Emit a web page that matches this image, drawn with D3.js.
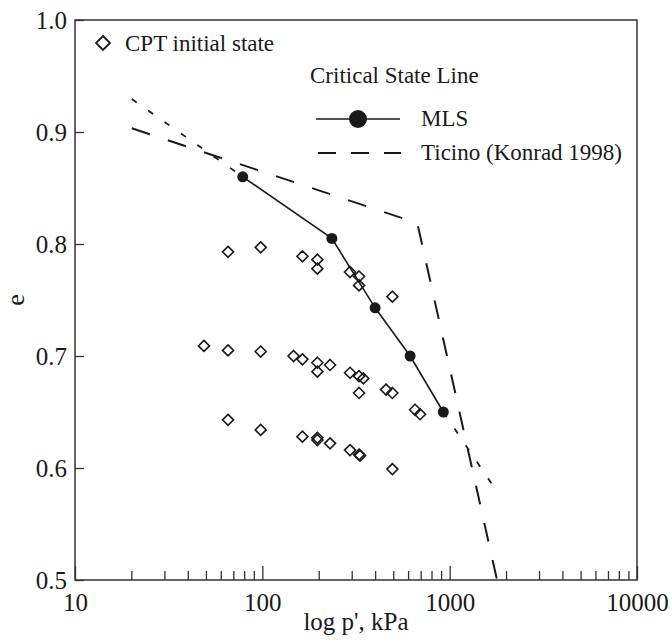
<!DOCTYPE html>
<html>
<head>
<meta charset="utf-8">
<script src="https://cdn.jsdelivr.net/npm/d3@7"></script>
<style>
  html, body { margin: 0; padding: 0; background: #fff; }
  svg { display: block; }
  svg text { font-family: "Liberation Serif", "Times New Roman", Times, "DejaVu Serif", serif; fill: #1a1a1a; }
</style>
</head>
<body>
<svg id="chart" width="672" height="642"></svg>
<script>
// ---- data (p' in kPa, void ratio e) ----
const xTickValues = [10, 100, 1000, 10000];
const xTickLabels = ["10", "100", "1000", "10000"];
const xMinorTicks = [20, 30, 40, 50, 60, 70, 80, 90, 200, 300, 400, 500, 600, 700, 800, 900,
                     2000, 3000, 4000, 5000, 6000, 7000, 8000, 9000];
const yTickValues = [0.5, 0.6, 0.7, 0.8, 0.9, 1.0];
const yTickLabels = ["0.5", "0.6", "0.7", "0.8", "0.9", "1.0"];

const cptUpper = [[65.6,0.793],[98,0.797],[163.7,0.789],[196.7,0.786],[196.7,0.778],
                  [293.9,0.775],[328.3,0.771],[328.3,0.763],[494.5,0.753]];
const cptMiddle = [[48.8,0.709],[65.6,0.705],[98,0.704],[146.8,0.700],[163.7,0.697],
                   [196.7,0.694],[196.7,0.686],[229.9,0.692],[293.9,0.685],[328.3,0.682],
                   [346.1,0.680],[328.3,0.667],[457.6,0.670],[494.5,0.667],[653.7,0.652],[695,0.648]];
const cptLower = [[65.6,0.643],[98,0.634],[163.7,0.628],[196.7,0.627],[196.7,0.625],
                  [229.9,0.622],[293.9,0.616],[328.3,0.612],[332.3,0.611],[494.5,0.599]];

const mlsLine = [[78.6,0.860],[235,0.805],[400,0.743],[615,0.700],[925,0.650]];
const mlsExtUpper = [[20.1,0.9295],[78.6,0.860]];
const mlsExtLower = [[925,0.650],[1820,0.577]];
const ticinoLine = [[20.1,0.9034],[672,0.8186],[1790,0.5]];

const legendLabels = ["CPT initial state", "Critical State Line", "MLS", "Ticino (Konrad 1998)"];
const xTitle = "log p', kPa";
const yTitle = "e";

// ---- layout ----
const FONT = '"Liberation Serif", "Times New Roman", Times, "DejaVu Serif", serif';
const svg = d3.select("#chart");
const L = 75, R = 637, T = 20, B = 580;
const ink = "#1a1a1a";

const x = d3.scaleLog().domain([10, 10000]).range([L, R]);
const y = d3.scaleLinear().domain([0.5, 1.0]).range([B, T]);

// frame
svg.append("rect").attr("x", L).attr("y", T).attr("width", R - L).attr("height", B - T)
  .attr("fill", "none").attr("stroke", "#333").attr("stroke-width", 1.5);

// x minor ticks
const xMinor = svg.append("g").attr("transform", `translate(0,${B})`)
  .call(d3.axisBottom(x).tickValues(xMinorTicks).tickSize(-9).tickFormat(""));
// x major ticks
const xMajor = svg.append("g").attr("transform", `translate(0,${B})`)
  .call(d3.axisBottom(x).tickValues(xTickValues).tickSize(-14).tickPadding(13)
    .tickFormat((d, i) => xTickLabels[i]));
// y axis
const yAxis = svg.append("g").attr("transform", `translate(${L},0)`)
  .call(d3.axisLeft(y).tickValues(yTickValues).tickSize(-9).tickPadding(8)
    .tickFormat((d, i) => yTickLabels[i]));

[xMinor, xMajor, yAxis].forEach(g => {
  g.attr("font-family", FONT).attr("font-size", 25);
  g.select(".domain").remove();
  g.selectAll(".tick line").attr("stroke", "#333").attr("stroke-width", 1.3);
  g.selectAll(".tick text").attr("font-family", FONT).style("font-family", FONT)
    .style("font-size", "25px").attr("fill", ink);
});

// axis titles
svg.append("text").attr("x", (L + R) / 2).attr("y", 630).attr("text-anchor", "middle")
  .style("font-family", FONT).style("font-size", "25px").text(xTitle);
svg.append("text").attr("transform", `translate(24,${(T + B) / 2}) rotate(-90)`)
  .attr("text-anchor", "middle").style("font-family", FONT).style("font-size", "26px").text(yTitle);

const line = d3.line().x(d => x(d[0])).y(d => y(d[1]));

// Ticino dashed
svg.append("path").datum(ticinoLine).attr("d", line).attr("fill", "none")
  .attr("stroke", ink).attr("stroke-width", 2).attr("stroke-dasharray", "19,19");
// MLS extensions (dotted)
[mlsExtUpper, mlsExtLower].forEach(seg => {
  svg.append("path").datum(seg).attr("d", line).attr("fill", "none")
    .attr("stroke", ink).attr("stroke-width", 1.8).attr("stroke-dasharray", "6,14");
});
// MLS solid
svg.append("path").datum(mlsLine).attr("d", line).attr("fill", "none")
  .attr("stroke", ink).attr("stroke-width", 1.6);
svg.selectAll("circle.mls").data(mlsLine).enter().append("circle")
  .attr("cx", d => x(d[0])).attr("cy", d => y(d[1])).attr("r", 5.5).attr("fill", ink);

// CPT diamonds
const diamond = (cx, cy, r) => `M${cx},${cy - r}L${cx + r},${cy}L${cx},${cy + r}L${cx - r},${cy}Z`;
svg.selectAll("path.cpt").data(cptUpper.concat(cptMiddle, cptLower)).enter().append("path")
  .attr("d", d => diamond(x(d[0]), y(d[1]), 5.5))
  .attr("fill", "none").attr("stroke", ink).attr("stroke-width", 1.6);

// legend
const lg = svg.append("g").style("font-family", FONT).style("font-size", "23px");
lg.append("path").attr("d", diamond(103, 43, 7)).attr("fill", "none")
  .attr("stroke", ink).attr("stroke-width", 1.8);
lg.append("text").attr("x", 125).attr("y", 51).text(legendLabels[0]);
lg.append("text").attr("x", 310).attr("y", 83).text(legendLabels[1]);
lg.append("line").attr("x1", 316).attr("x2", 400).attr("y1", 119).attr("y2", 119)
  .attr("stroke", ink).attr("stroke-width", 1.6);
lg.append("circle").attr("cx", 358).attr("cy", 119).attr("r", 9).attr("fill", ink);
lg.append("text").attr("x", 421).attr("y", 126).text(legendLabels[2]);
lg.append("line").attr("x1", 318).attr("x2", 401).attr("y1", 153).attr("y2", 153)
  .attr("stroke", ink).attr("stroke-width", 2).attr("stroke-dasharray", "18,15");
lg.append("text").attr("x", 421).attr("y", 160).text(legendLabels[3]);
</script>
</body>
</html>
